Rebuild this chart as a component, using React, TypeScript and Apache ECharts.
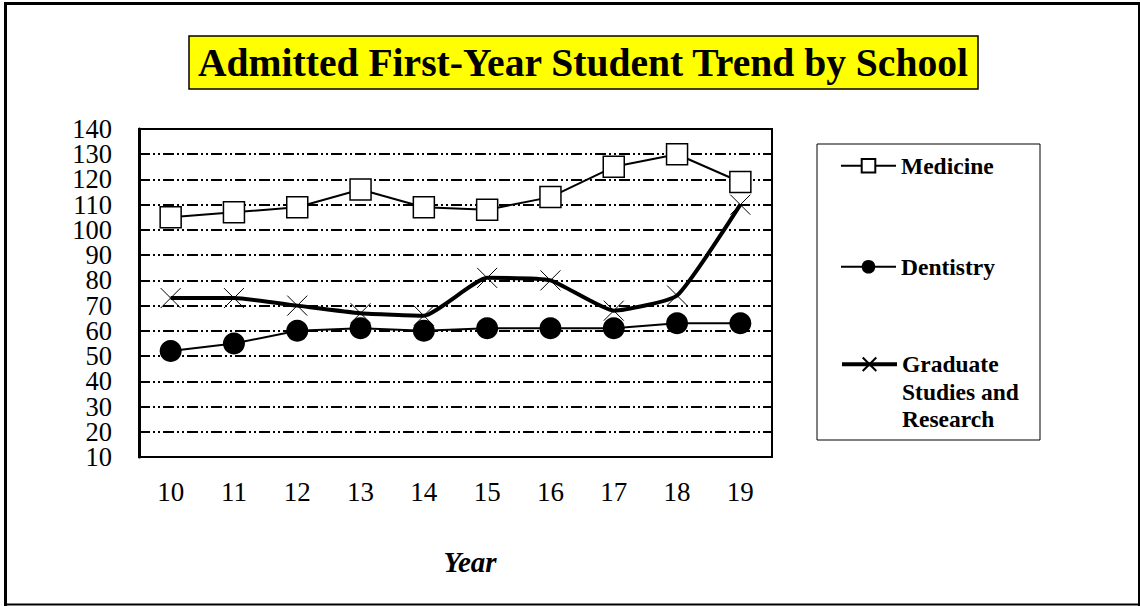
import React, { useEffect, useRef } from "react";
import * as echarts from "echarts";

const years = ["10", "11", "12", "13", "14", "15", "16", "17", "18", "19"];
const medicine = [105, 107, 109, 116, 109, 108, 113, 125, 130, 119];
const dentistry = [52, 55, 60, 61, 60, 61, 61, 61, 63, 63];
const graduate = [73, 73, 70, 67, 66, 81, 80, 68, 74, 110];
const seriesNames = ["Medicine", "Dentistry", "Graduate Studies and Research"];
const graduateLegendLines = ["Graduate", "Studies and", "Research"];
const yTicksOdd = [10, 30, 50, 70, 90, 110, 130];
const yTicksEven = [20, 40, 60, 80, 100, 120, 140];
const titleText = "Admitted First-Year Student Trend by School";
const xAxisTitle = "Year";

const FONT = "'Liberation Serif', 'Times New Roman', serif";
const X_SYMBOL = "path://M0,0L10,10M0,10L10,0";

export default function App() {
  const ref = useRef<HTMLDivElement>(null);
  useEffect(() => {
    if (!ref.current) return;
    const chart = echarts.init(ref.current, null, { renderer: "svg" });
    const legendText = {
      fontFamily: FONT,
      fontSize: 23.5,
      fontWeight: "bold" as const,
      color: "#000",
      lineHeight: 27.5,
    };
    const legendCommon = {
      orient: "vertical" as const,
      left: 840,
      padding: 0,
      itemWidth: 55,
      itemHeight: 17,
      itemGap: 4,
      selectedMode: false as const,
      textStyle: legendText,
      lineStyle: { width: 2 },
    };
    const yLabel = (values: number[]) => ({
      fontFamily: FONT,
      fontSize: 26.5,
      color: "#000",
      margin: 27,
      customValues: values,
      showMinLabel: true,
      showMaxLabel: true,
    });
    chart.setOption({
      animation: false,
      backgroundColor: "#fff",
      title: {
        text: titleText,
        left: 189,
        top: 36,
        padding: [6, 9, 6, 9],
        backgroundColor: "#ffff00",
        borderColor: "#000",
        borderWidth: 1.5,
        textStyle: {
          fontFamily: FONT,
          fontSize: 39.6,
          fontWeight: "bold",
          color: "#000",
          lineHeight: 41,
        },
      },
      grid: {
        left: 139,
        top: 129,
        right: 368,
        bottom: 149,
        show: true,
        borderColor: "#000",
        borderWidth: 2,
        backgroundColor: "transparent",
      },
      legend: [
        { ...legendCommon, top: 152, data: [seriesNames[0]] },
        { ...legendCommon, top: 253, data: [seriesNames[1]] },
        {
          ...legendCommon,
          top: 295.5,
          data: [seriesNames[2]],
          lineStyle: { width: 4 },
          formatter: () =>
            "{s| }\n" + graduateLegendLines.map((l) => "{a|" + l + "}").join("\n"),
          textStyle: {
            ...legendText,
            rich: {
              s: { lineHeight: 55, fontSize: 1 },
              a: {
                fontFamily: FONT,
                fontSize: 23.5,
                fontWeight: "bold",
                color: "#000",
                lineHeight: 27.5,
              },
            },
          },
        },
      ],
      xAxis: {
        type: "category",
        data: years,
        boundaryGap: true,
        axisLine: { show: true, lineStyle: { color: "#000", width: 2 } },
        axisTick: { show: false },
        axisLabel: {
          fontFamily: FONT,
          fontSize: 27,
          color: "#000",
          margin: 21,
        },
        name: xAxisTitle,
        nameLocation: "middle",
        nameGap: 90,
        nameTextStyle: {
          fontFamily: FONT,
          fontSize: 29,
          fontWeight: "bold",
          fontStyle: "italic",
          color: "#000",
          padding: [0, 0, 0, 29],
        },
      },
      yAxis: [
        {
          type: "value",
          position: "left",
          min: 10,
          max: 140,
          interval: 10,
          axisLine: { show: true, lineStyle: { color: "#000", width: 3 } },
          axisTick: { show: false },
          axisLabel: yLabel(yTicksOdd),
          splitLine: {
            show: true,
            lineStyle: { color: "#000", width: 2, type: [11, 3, 2, 3, 2, 3] },
          },
        },
        {
          type: "value",
          position: "left",
          offset: 0,
          min: 10,
          max: 140,
          interval: 10,
          axisLine: { show: false },
          axisTick: { show: false },
          axisLabel: yLabel(yTicksEven),
          splitLine: { show: false },
        },
      ],
      series: [
        {
          name: seriesNames[0],
          type: "line",
          data: medicine,
          symbol: "rect",
          symbolSize: 21,
          lineStyle: { color: "#000", width: 2 },
          itemStyle: { color: "#fff", borderColor: "#000", borderWidth: 1.5 },
          emphasis: { disabled: true },
          z: 3,
        },
        {
          name: seriesNames[1],
          type: "line",
          data: dentistry,
          symbol: "circle",
          symbolSize: 22,
          lineStyle: { color: "#000", width: 2 },
          itemStyle: { color: "#000", borderColor: "#000", borderWidth: 0 },
          emphasis: { disabled: true },
          z: 4,
        },
        {
          name: seriesNames[2],
          type: "line",
          data: graduate,
          symbol: X_SYMBOL,
          symbolSize: 20,
          smooth: 0.15,
          lineStyle: { color: "#000", width: 4 },
          itemStyle: { color: "none", borderColor: "#000", borderWidth: 1 },
          emphasis: { disabled: true },
          z: 5,
        },
      ],
      graphic: [
        {
          type: "rect",
          shape: { x: 817, y: 144, width: 223, height: 296 },
          style: { fill: "none", stroke: "#000", lineWidth: 1 },
          silent: true,
        },
        {
          type: "rect",
          shape: { x: 4, y: 2, width: 3, height: 604 },
          style: { fill: "#000" },
          silent: true,
        },
        {
          type: "rect",
          shape: { x: 4, y: 2, width: 1136, height: 3 },
          style: { fill: "#000" },
          silent: true,
        },
        {
          type: "rect",
          shape: { x: 4, y: 603.5, width: 1136, height: 2 },
          style: { fill: "#000" },
          silent: true,
        },
        {
          type: "rect",
          shape: { x: 1138, y: 2, width: 2, height: 604 },
          style: { fill: "#000" },
          silent: true,
        },
      ],
    });
    return () => chart.dispose();
  }, []);
  return (
    <div
      ref={ref}
      style={{ position: "fixed", left: 0, top: 0, width: 1140, height: 606 }}
    />
  );
}
